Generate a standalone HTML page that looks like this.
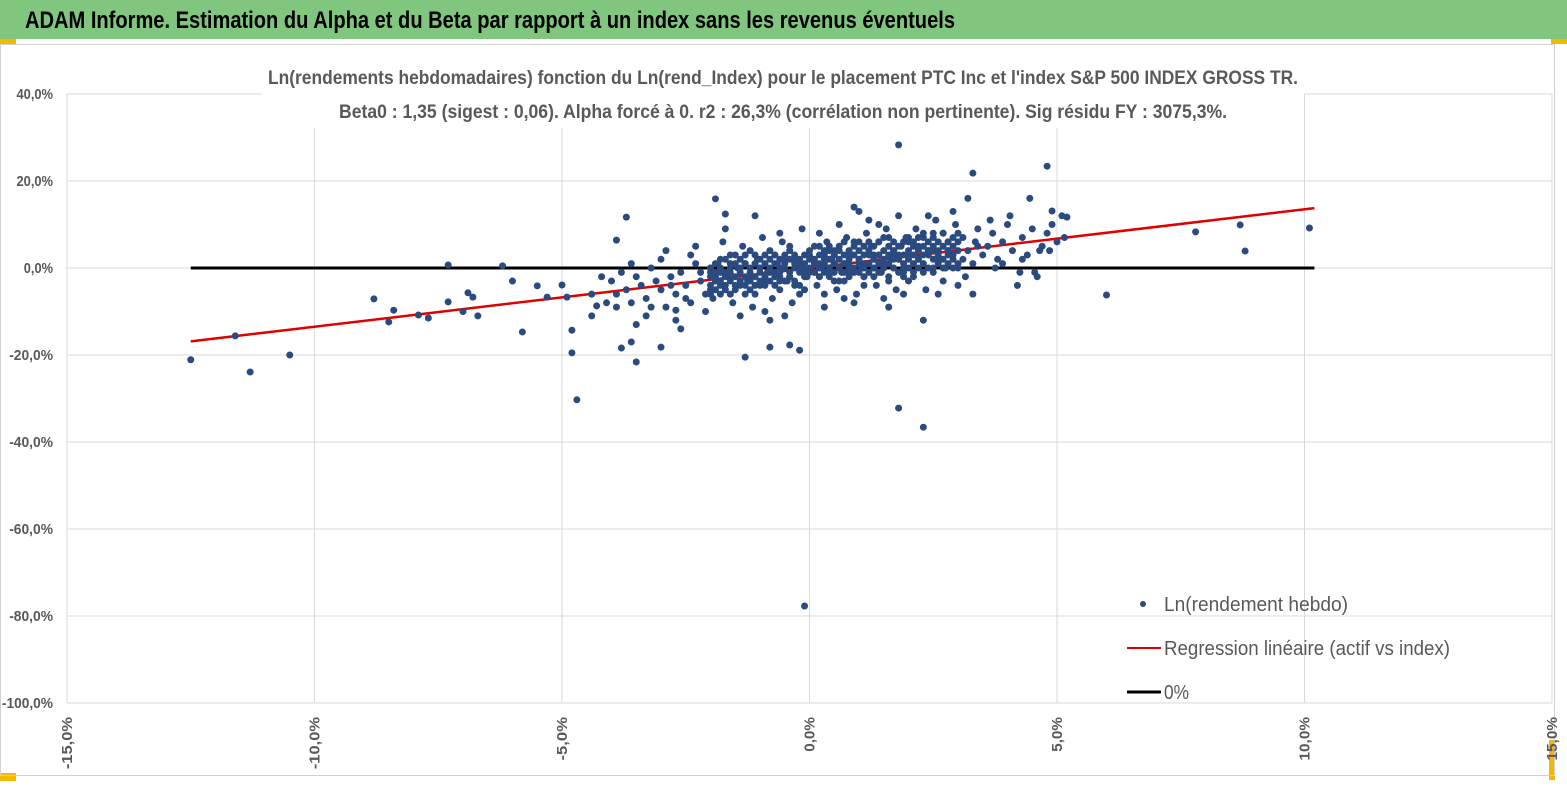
<!DOCTYPE html>
<html><head><meta charset="utf-8"><style>
body{margin:0;width:1567px;height:787px;overflow:hidden;background:#fff;font-family:"Liberation Sans",sans-serif;}
</style></head><body>
<svg id="chart" width="1567" height="787" xmlns="http://www.w3.org/2000/svg">
<rect x="0" y="0" width="1567" height="39" fill="#80c67f"/>
<rect x="0" y="39" width="16" height="5" fill="#f5b800"/>
<rect x="1551" y="39" width="16" height="5" fill="#f5b800"/>
<rect x="0" y="773" width="16" height="8" fill="#f5b800"/>
<rect x="1549" y="740" width="6" height="40" fill="#f5b800"/>
<rect x="0.5" y="44.5" width="1554" height="731" fill="none" stroke="#d0d0d0"/>
<text x="25" y="28" font-size="24" font-weight="bold" fill="#000" textLength="930" lengthAdjust="spacingAndGlyphs">ADAM Informe. Estimation du Alpha et du Beta par rapport à un index sans les revenus éventuels</text>
<g id="grid"></g>
<g id="lines"></g>
<g id="dots"></g>
<rect x="262" y="62" width="1042" height="66" fill="#fff"/>
<text x="783" y="84" font-size="19" font-weight="bold" fill="#595959" text-anchor="middle" textLength="1030" lengthAdjust="spacingAndGlyphs">Ln(rendements hebdomadaires) fonction du Ln(rend_Index) pour le placement PTC Inc et l'index S&amp;P 500 INDEX GROSS TR.</text>
<text x="783" y="118" font-size="19" font-weight="bold" fill="#595959" text-anchor="middle" textLength="888" lengthAdjust="spacingAndGlyphs">Beta0 : 1,35 (sigest : 0,06). Alpha forcé à 0. r2 : 26,3% (corrélation non pertinente). Sig résidu FY : 3075,3%.</text>
<g id="axes"></g>
<g>
<circle cx="1143" cy="604" r="3" fill="#2b4a80"/>
<text x="1164" y="611" font-size="20" fill="#595959" textLength="184" lengthAdjust="spacingAndGlyphs">Ln(rendement hebdo)</text>
<line x1="1127" y1="648" x2="1161" y2="648" stroke="#e00000" stroke-width="2"/>
<text x="1164" y="655" font-size="20" fill="#595959" textLength="286" lengthAdjust="spacingAndGlyphs">Regression linéaire (actif vs index)</text>
<line x1="1127" y1="692" x2="1161" y2="692" stroke="#000" stroke-width="3"/>
<text x="1164" y="699" font-size="20" fill="#595959" textLength="25" lengthAdjust="spacingAndGlyphs">0%</text>
</g>
</svg>
<script>
const xTicks=[-15,-10,-5,0,5,10,15];
const yTicks=[40,20,0,-20,-40,-60,-80,-100];
const beta=[1.35];
const lineRange=[-12.5,10.2];
const ptsX=[-12.5,-11.6,-11.3,-10.5,-8.8,-8.5,-8.4,-7.9,-7.7,-7.3,-7.3,-7,-6.9,-6.8,-6.7,-6.2,-6,-5.8,-5.5,-5.3,-5,-4.9,-4.8,-4.7,-4.8,-4.4,-4.3,-3.9,-3.7,-3.8,-3.6,-3.5,-3,-2.7,-1.9,-1.7,-1.3,-0.8,-0.4,-0.2,-0.1,1.8,1.8,2.3,2.3,3.3,4.8,4.9,5.2,6,7.8,8.7,8.8,10.1,
-4.0,-3.9,-3.8,-3.7,-3.6,-3.5,-3.4,-3.3,-3.2,-3.1,-3.0,-2.9,-2.8,-2.7,-2.6,-2.5,-2.4,-2.3,-2.2,-2.1,-2.0,-3.9,-3.6,-3.3,-3.0,-2.7,-2.4,-2.1,-2.3,-2.9,-3.5,-2.6,-4.2,-4.4,-4.1,-3.2,-2.8,-2.5,-2.2,-2.0,
-2.0,-1.9,-1.8,-1.7,-1.6,-1.5,-1.4,-1.3,-1.2,-1.1,-1.0,-0.9,-0.8,-0.7,-0.6,-0.5,-0.4,-0.3,-0.2,-0.1,0,-1.95,-1.75,-1.55,-1.35,-1.15,-0.95,-0.75,-0.55,-0.35,-0.15,-1.85,-1.65,-1.45,-1.25,-1.05,-0.85,-0.65,-0.45,-0.25,-0.05,-1.9,-1.6,-1.3,-1.0,-0.7,-0.4,-0.1,-1.8,-1.2,-0.6,-0.3,-0.9,-0.5,-1.7,-1.1,-0.8,-0.2,-1.4,-0.6,
0.1,0.2,0.3,0.4,0.5,0.6,0.7,0.8,0.9,1.0,1.1,1.2,1.3,1.4,1.5,1.6,1.7,1.8,1.9,2.0,0.15,0.35,0.55,0.75,0.95,1.15,1.35,1.55,1.75,1.95,0.05,0.25,0.45,0.65,0.85,1.05,1.25,1.45,1.65,1.85,0.1,0.4,0.7,1.0,1.3,1.6,1.9,0.2,0.5,0.8,1.1,1.4,1.7,2.0,0.3,0.9,1.5,0.6,1.2,1.8,0.9,1.0,0.3,1.6,1.9,0.7,0.2,1.4,0.5,1.1,1.7,0.8,0.4,1.3,
2.1,2.2,2.3,2.4,2.5,2.6,2.7,2.8,2.9,3.0,3.1,3.2,3.3,3.4,3.5,2.15,2.35,2.55,2.75,2.95,3.15,3.35,2.2,2.5,2.8,3.1,3.4,2.3,2.6,2.9,3.2,3.0,2.4,2.7,2.1,3.3,2.5,2.0,
3.6,3.7,3.8,3.9,4.0,4.1,4.2,4.3,4.4,4.5,4.6,4.7,4.8,4.9,5.0,5.1,3.75,4.05,4.45,4.25,4.65,3.9,4.55,4.85,5.15,3.65,4.3,
-2.0,-2.0,-2.0,-2.0,-1.9,-1.9,-1.9,-1.9,-1.8,-1.8,-1.8,-1.8,-1.7,-1.7,-1.7,-1.7,-1.6,-1.6,-1.6,-1.6,-1.5,-1.5,-1.5,-1.5,-1.4,-1.4,-1.4,-1.4,-1.3,-1.3,-1.3,-1.3,-1.2,-1.2,-1.2,-1.2,-1.1,-1.1,-1.1,-1.1,-1.0,-1.0,-1.0,-1.0,-0.9,-0.9,-0.9,-0.9,-0.8,-0.8,-0.8,-0.8,-0.7,-0.7,-0.7,-0.7,-0.6,-0.6,-0.6,-0.6,-0.5,-0.5,-0.5,-0.5,-0.4,-0.4,-0.4,-0.4,-0.3,-0.3,-0.3,-0.3,-0.2,-0.2,-0.2,-0.2,-0.1,-0.1,-0.1,-0.1,
0.0,0.0,0.0,0.0,0.1,0.1,0.1,0.1,0.2,0.2,0.2,0.2,0.3,0.3,0.3,0.3,0.4,0.4,0.4,0.4,0.5,0.5,0.5,0.5,0.6,0.6,0.6,0.6,0.7,0.7,0.7,0.7,0.8,0.8,0.8,0.8,0.9,0.9,0.9,0.9,1.0,1.0,1.0,1.0,1.1,1.1,1.1,1.1,1.2,1.2,1.2,1.2,1.3,1.3,1.3,1.3,1.4,1.4,1.4,1.4,1.5,1.5,1.5,1.5,1.6,1.6,1.6,1.6,1.7,1.7,1.7,1.7,1.8,1.8,1.8,1.8,1.9,1.9,1.9,1.9,
2.0,2.0,2.0,2.0,2.1,2.1,2.1,2.1,2.2,2.2,2.2,2.2,2.3,2.3,2.3,2.3,2.4,2.4,2.4,2.4,2.5,2.5,2.5,2.5,2.6,2.6,2.6,2.6,2.7,2.7,2.7,2.7,2.8,2.8,2.8,2.8,2.9,2.9,2.9,2.9,3.0,3.0,3.0,3.0];
const ptsY=[-21.1,-15.6,-23.9,-20,-7.1,-12.4,-9.7,-10.8,-11.5,0.7,-7.8,-10,-5.7,-6.7,-11,0.5,-3,-14.7,-4.1,-6.7,-3.9,-6.7,-19.5,-30.3,-14.3,-11,-8.7,6.4,11.7,-18.4,-17,-21.6,-18.2,-9.7,15.9,12.4,-20.5,-18.2,-17.7,-18.9,-77.7,28.3,-32.2,-36.6,-12,21.8,23.4,13.1,11.7,-6.2,8.3,9.9,3.9,9.2,
-3,-6,-1,-5,-8,-2,-4,-7,0,-3,-5,-9,-2,-6,-1,-4,-8,1,-3,-6,-2,-9,1,-11,2,-12,3,-10,5,4,-13,-14,-2,-6,-8,-9,-4,-7,-1,-5,
0,-3,2,-5,-1,3,-4,1,-2,-6,0,-3,4,-1,-5,2,-2,-4,1,-1,3,-7,6,-8,5,-9,7,-7,6,-8,9,1,-2,0,-3,2,-1,1,-3,0,-2,-1,3,-6,-4,3,5,-5,-4,4,-3,2,-10,-11,9,12,-12,-6,-11,8,
1,-2,3,0,-3,4,1,-1,5,2,-2,3,0,6,1,-3,4,2,-1,3,-4,6,-5,7,-6,8,-4,9,-5,7,2,0,2,-1,3,0,5,-1,2,5,-1,4,-3,6,-2,7,0,5,1,3,-4,3,0,-3,-6,-8,-7,10,11,12,14,13,-9,-9,-6,-7,8,10,3,1,3,0,-1,2,
1,5,-1,4,8,2,-3,6,3,0,7,4,1,9,3,9,-5,11,0,10,-2,6,2,0,4,2,5,7,-6,13,16,-4,12,8,-2,-6,4,6,
5,8,2,6,10,4,-4,7,3,9,-2,5,8,10,6,12,0,12,16,-1,4,1,-1,4,7,11,2,
-4,-1,-6,0,-2,-5,1,-3,-3,0,-6,-1,-1,-4,2,-2,-3,-6,0,1,-2,1,-4,-5,0,-3,2,-1,-2,-4,1,3,0,-1,-3,-5,1,-2,3,-4,-1,2,-3,0,1,-2,-4,3,0,-1,2,-3,-2,1,3,-4,0,-1,2,-2,1,-3,3,0,-1,2,-2,4,0,1,-3,3,2,-1,0,-4,1,3,-2,0,
0,2,-1,4,2,-1,1,5,0,3,-2,1,1,4,-1,2,2,0,5,-2,1,3,-1,4,2,0,5,-3,3,1,-1,6,1,4,-2,2,3,0,6,-1,2,4,-1,1,3,0,5,-2,1,4,-1,6,2,5,0,3,3,-1,6,1,2,4,0,7,1,3,5,-2,4,0,6,2,2,5,-1,3,3,6,1,-2,
4,2,7,0,3,5,-1,6,2,4,7,0,5,1,3,8,3,6,0,4,2,5,7,-1,4,1,6,3,5,2,8,0,3,6,1,4,5,2,7,0,4,6,1,8];
const NS='http://www.w3.org/2000/svg';
const X0=67,X1=1552,Y0=94,Y1=703;
function sx(v){return X0+(v+15)/30*(X1-X0);}
function sy(v){return Y0+(40-v)/140*(Y1-Y0);}
function mk(tag,attrs,parent){const e=document.createElementNS(NS,tag);for(const k in attrs)e.setAttribute(k,attrs[k]);document.getElementById(parent).appendChild(e);return e;}
xTicks.forEach((t,i)=>{
  const g=mk('line',{x1:sx(t),x2:sx(t),y1:Y0,y2:Y1,stroke:'#d9d9d9','stroke-width':1},'grid');
  
  
  const s=(t.toFixed(1).replace('.',','))+'%';
  const lab=mk('text',{x:0,y:0,'font-size':15,'font-weight':600,fill:'#595959','text-anchor':'end',textLength:s.length*8.7,lengthAdjust:'spacingAndGlyphs',transform:'translate('+(sx(t)+5)+',717) rotate(-90)'},'axes');
  lab.textContent=s;
  
  
});
yTicks.forEach(t=>{
  const g=mk('line',{x1:X0,x2:X1,y1:sy(t),y2:sy(t),stroke:'#d9d9d9','stroke-width':1},'grid');
  
  
  const s=(t.toFixed(1).replace('.',','))+'%';
  const lab=mk('text',{x:53,y:sy(t)+5,'font-size':15,'font-weight':600,fill:'#595959','text-anchor':'end',textLength:s.length*7.3,lengthAdjust:'spacingAndGlyphs'},'axes');
  lab.textContent=s;
  
  
});
const z=mk('line',{x1:sx(lineRange[0]),x2:sx(lineRange[1]),y1:sy(0),y2:sy(0),stroke:'#000','stroke-width':3},'lines');


for(let i=0;i<ptsX.length;i++){
  const c=mk('circle',{cx:sx(ptsX[i]),cy:sy(ptsY[i]),r:3.5,fill:'#2b4a80'},'dots');
  
  
}
const r=mk('line',{x1:sx(lineRange[0]),x2:sx(lineRange[1]),y1:sy(beta[0]*lineRange[0]),y2:sy(beta[0]*lineRange[1]),stroke:'#e00000','stroke-width':2.5},'lines');


</script>
</body></html>
